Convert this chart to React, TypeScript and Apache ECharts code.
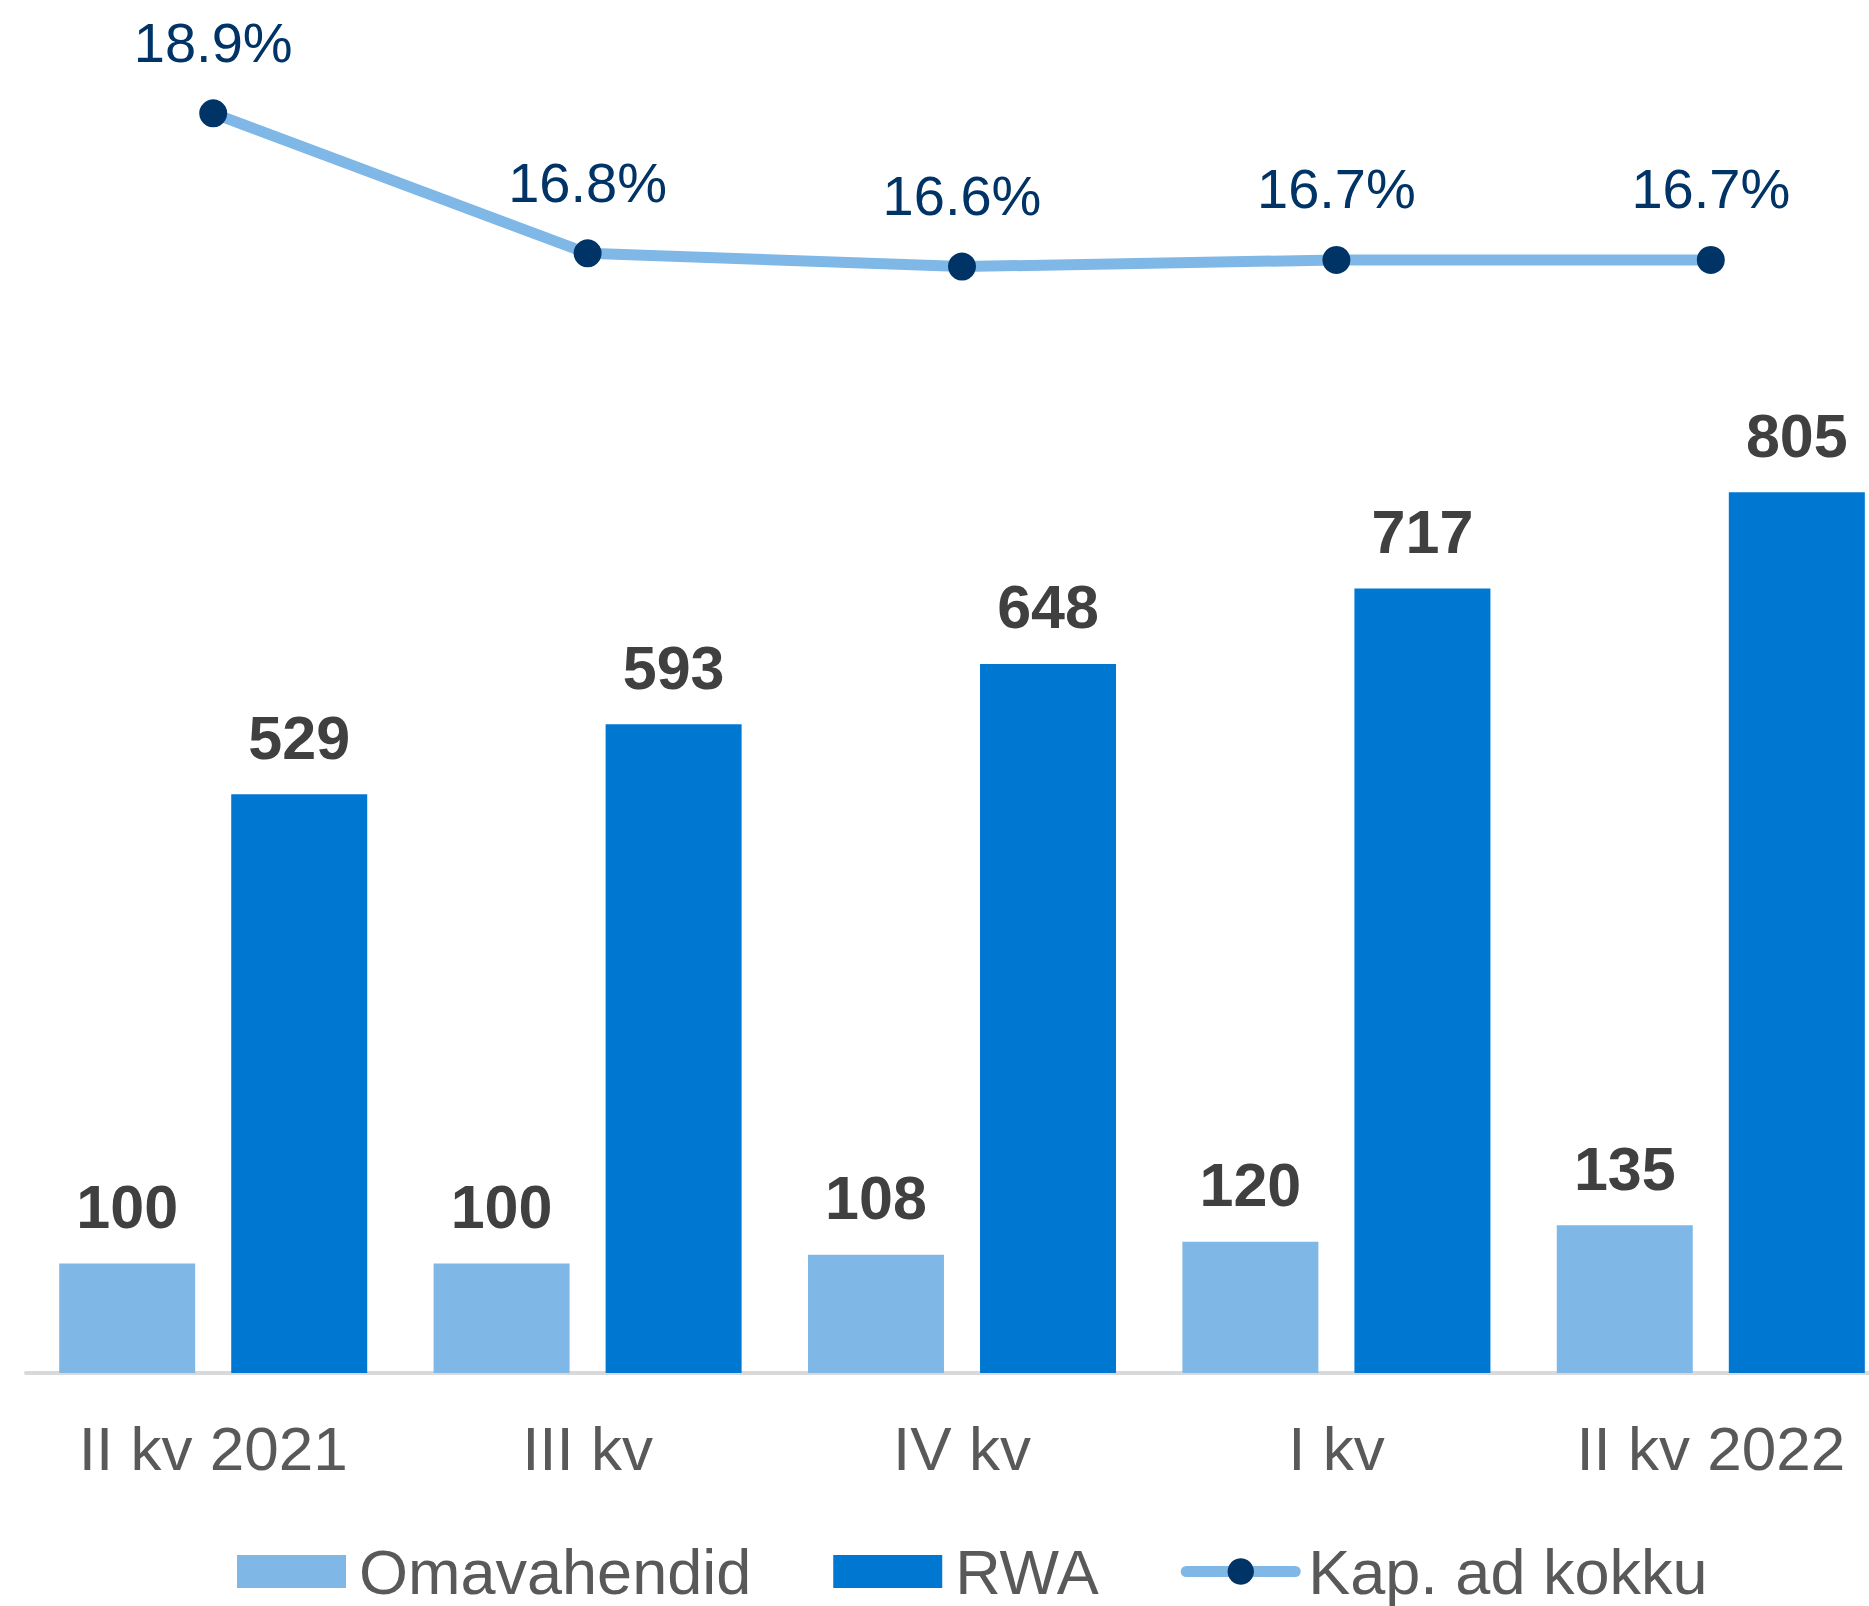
import React, { useEffect, useRef } from "react";
import * as echarts from "echarts";

const categories = ["II kv 2021", "III kv", "IV kv", "I kv", "II kv 2022"];
const omavahendid = [100, 100, 108, 120, 135];
const rwa = [529, 593, 648, 717, 805];
const kapAdKokku = [18.9, 16.8, 16.6, 16.7, 16.7];

const FONT = "'Liberation Sans', Arial, sans-serif";
const LIGHT = "#7FB8E6";
const DARK = "#0078D2";
const NAVY = "#003366";

export default function App() {
  const ref = useRef<HTMLDivElement>(null);
  useEffect(() => {
    if (!ref.current) return;
    const chart = echarts.init(ref.current, undefined, { renderer: "svg" });
    chart.setOption({
      animation: false,
      textStyle: { fontFamily: FONT },
      legend: {
        left: 232,
        top: 1535,
        itemWidth: 109,
        itemHeight: 33,
        itemGap: 82,
        textStyle: { fontSize: 63, color: "#595959", fontFamily: FONT, padding: [0, 0, 0, 8] },
        data: [
          { name: "Omavahendid", icon: "rect" },
          { name: "RWA", icon: "rect" },
          {
            name: "Kap. ad kokku",
            lineStyle: { width: 11, color: LIGHT, cap: "round" },
            itemStyle: { color: NAVY },
          },
        ],
      },
      grid: { left: 26, width: 1872, top: 60, bottom: 233, containLabel: false },
      xAxis: {
        type: "category",
        data: categories,
        axisLine: { show: true, lineStyle: { color: "#d9d9d9", width: 4 } },
        axisTick: { show: false },
        axisLabel: { fontSize: 62, color: "#595959", margin: 44, fontFamily: FONT, interval: 0 },
      },
      yAxis: [
        { type: "value", min: 0, max: 1200, show: false, splitLine: { show: false } },
        { type: "value", min: 0, max: 19.7, show: false, splitLine: { show: false } },
      ],
      series: [
        {
          name: "Omavahendid",
          type: "bar",
          data: omavahendid,
          barWidth: 136,
          barGap: "26.5%",
          itemStyle: { color: LIGHT },
          label: {
            show: true,
            position: "top",
            distance: 26,
            fontSize: 61,
            fontWeight: "bold",
            color: "#404040",
            fontFamily: FONT,
          },
        },
        {
          name: "RWA",
          type: "bar",
          data: rwa,
          barWidth: 136,
          barGap: "26.5%",
          itemStyle: { color: DARK },
          label: {
            show: true,
            position: "top",
            distance: 26,
            fontSize: 61,
            fontWeight: "bold",
            color: "#404040",
            fontFamily: FONT,
          },
        },
        {
          name: "Kap. ad kokku",
          type: "line",
          yAxisIndex: 1,
          data: kapAdKokku,
          symbol: "circle",
          symbolSize: 28,
          lineStyle: { color: LIGHT, width: 11, cap: "round" },
          itemStyle: { color: NAVY },
          label: {
            show: true,
            position: "top",
            distance: 29,
            fontSize: 56,
            color: NAVY,
            fontFamily: FONT,
            formatter: (p: any) => Number(p.value).toFixed(1) + "%",
          },
        },
      ],
    });
    return () => chart.dispose();
  }, []);
  return (
    <div
      style={{ position: "absolute", left: 0, top: 0, width: 1869, height: 1606, overflow: "hidden", background: "#fff" }}
    >
      <div ref={ref} style={{ width: 1910, height: 1606 }} />
    </div>
  );
}
